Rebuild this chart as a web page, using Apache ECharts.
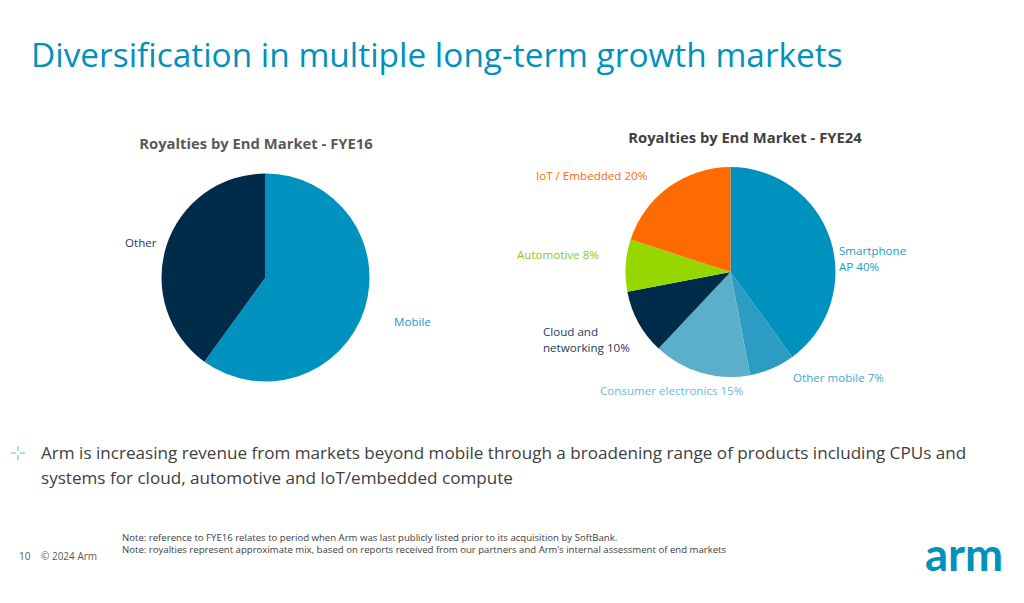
<!DOCTYPE html>
<html>
<head>
<meta charset="utf-8">
<script src="https://cdn.jsdelivr.net/npm/echarts@6/dist/echarts.min.js"></script>
<style>
html,body{margin:0;padding:0;background:#fff;}
#c{width:1024px;height:603px;}
</style>
</head>
<body>
<div id="c"></div>
<script>
// ---- data ----
const fye16Categories = ['Mobile', 'Other'];
const fye16Values = [60, 40];
const fye24Categories = ['Smartphone\nAP 40%', 'Other mobile 7%', 'Consumer electronics 15%', 'Cloud and\nnetworking 10%', 'Automotive 8%', 'IoT / Embedded 20%'];
const fye24Values = [40, 7, 15, 10, 8, 20];

// ---- styles ----
const FONT = '"Open Sans", sans-serif';
const fye16Colors = ['#0092BF', '#002B49'];
const fye16LabelColors = ['#1A9BC7', '#1F3B57'];
const fye24Colors = ['#0092BF', '#2C9CC3', '#5BAFCB', '#002B49', '#97D700', '#FF6B00'];
const fye24LabelColors = ['#1A9BC7', '#45A8CF', '#6BBAD6', '#1F3B57', '#8ACB10', '#FF6B00'];
const fye16LabelPos = [[394, 321], [125, 242]];
const fye24LabelPos = [[839, 258], [793, 377], [600, 390], [543, 339], [517, 254], [536, 175]];

function pieData(cats, vals, colors, labelColors) {
  return cats.map((c, i) => ({
    name: c, value: vals[i],
    itemStyle: { color: colors[i] },
    label: { color: labelColors[i] }
  }));
}

const chart = echarts.init(document.getElementById('c'), null, { renderer: 'svg' });

const pieCommon = {
  type: 'pie',
  startAngle: 90,
  clockwise: true,
  avoidLabelOverlap: false,
  silent: true,
  animation: false,
  itemStyle: { borderWidth: 0 },
  labelLine: { show: false },
  label: {
    show: true, position: 'outside', formatter: '{b}',
    fontFamily: FONT, fontSize: 11.6, lineHeight: 16
  }
};

chart.setOption({
  animation: false,
  title: [
    { text: 'Diversification in multiple long-term growth markets', left: 31, top: 37, padding: 0,
      textStyle: { fontFamily: FONT, fontSize: 33.4, fontWeight: 'normal', color: '#0091BD' } },
    { text: 'Royalties by End Market - FYE16', left: 256, top: 135, textAlign: 'center', padding: 0,
      textStyle: { fontFamily: FONT, fontSize: 14.8, fontWeight: 'bold', color: '#595959' } },
    { text: 'Royalties by End Market - FYE24', left: 745, top: 129, textAlign: 'center', padding: 0,
      textStyle: { fontFamily: FONT, fontSize: 14.8, fontWeight: 'bold', color: '#404040' } }
  ],
  series: [
    Object.assign({}, pieCommon, {
      center: [265.5, 277.5], radius: 104,
      data: pieData(fye16Categories, fye16Values, fye16Colors, fye16LabelColors),
      labelLayout: p => ({ x: fye16LabelPos[p.dataIndex][0], y: fye16LabelPos[p.dataIndex][1], align: 'left', verticalAlign: 'middle' })
    }),
    Object.assign({}, pieCommon, {
      center: [730.5, 272], radius: 105,
      data: pieData(fye24Categories, fye24Values, fye24Colors, fye24LabelColors),
      labelLayout: p => ({ x: fye24LabelPos[p.dataIndex][0], y: fye24LabelPos[p.dataIndex][1], align: 'left', verticalAlign: 'middle' })
    })
  ],
  graphic: [
    // bullet cross
    { type: 'line', shape: { x1: 11, y1: 453, x2: 16, y2: 453 }, style: { stroke: '#5BB8D0', lineWidth: 1 } },
    { type: 'line', shape: { x1: 20, y1: 453, x2: 25, y2: 453 }, style: { stroke: '#5BB8D0', lineWidth: 1 } },
    { type: 'line', shape: { x1: 18, y1: 446, x2: 18, y2: 451 }, style: { stroke: '#5BB8D0', lineWidth: 1 } },
    { type: 'line', shape: { x1: 18, y1: 455, x2: 18, y2: 460 }, style: { stroke: '#5BB8D0', lineWidth: 1 } },
    { type: 'text', left: 41, top: 440,
      style: { text: 'Arm is increasing revenue from markets beyond mobile through a broadening range of products including CPUs and\nsystems for cloud, automotive and IoT/embedded compute',
        fontFamily: FONT, fontSize: 17.1, lineHeight: 25, fill: '#404040' } },
    { type: 'text', left: 122, top: 531,
      style: { text: 'Note: reference to FYE16 relates to period when Arm was last publicly listed prior to its acquisition by SoftBank.\nNote: royalties represent approximate mix, based on reports received from our partners and Arm\u2019s internal assessment of end markets',
        fontFamily: FONT, fontSize: 9.6, lineHeight: 12, fill: '#404040' } },
    { type: 'text', left: 19, top: 550,
      style: { text: '10', fontFamily: FONT, fontSize: 10, lineHeight: 12, fill: '#595959' } },
    { type: 'text', left: 41, top: 550,
      style: { text: '\u00A9 2024 Arm', fontFamily: FONT, fontSize: 10, lineHeight: 12, fill: '#595959' } },
    { type: 'text', left: 925, top: 530,
      style: { text: 'arm', fontFamily: 'Lato, sans-serif', fontSize: 45.5, fontWeight: 'bold', fill: '#0091BD' } }
  ]
});
</script>
</body>
</html>
